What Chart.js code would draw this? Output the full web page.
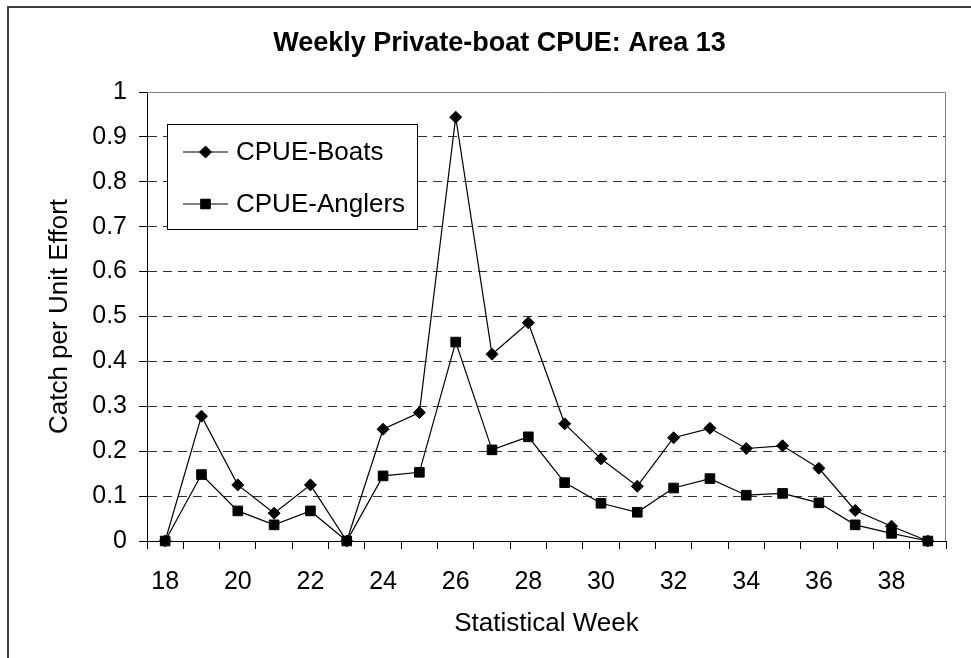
<!DOCTYPE html>
<html>
<head>
<meta charset="utf-8">
<script src="https://cdn.jsdelivr.net/npm/chart.js@4"></script>
<style>
  html, body { margin: 0; padding: 0; background: #fff; }
  canvas { display: block; }
</style>
</head>
<body>
<canvas id="chart" width="971" height="658"></canvas>
<script>
// statistical weeks and catch per unit effort
const weeks = [18, 19, 20, 21, 22, 23, 24, 25, 26, 27, 28, 29, 30, 31, 32, 33, 34, 35, 36, 37, 38, 39];
const cpueBoats = [0, 0.278, 0.125, 0.062, 0.125, 0, 0.249, 0.286, 0.944, 0.416, 0.486, 0.261,
                   0.183, 0.122, 0.230, 0.251, 0.206, 0.212, 0.162, 0.068, 0.033, 0];
const cpueAnglers = [0, 0.148, 0.067, 0.036, 0.067, 0, 0.145, 0.153, 0.443, 0.203, 0.232, 0.130,
                     0.084, 0.064, 0.118, 0.139, 0.102, 0.106, 0.085, 0.036, 0.017, 0];
const yTicks = [0, 0.1, 0.2, 0.3, 0.4, 0.5, 0.6, 0.7, 0.8, 0.9, 1];

const FONT = "'Liberation Sans', Arial, sans-serif";

// frame, plot border and the boxed legend (inside the plot, like Excel)
const decor = {
  id: 'decor',
  beforeDraw(chart) {
    const ctx = chart.ctx;
    ctx.save();
    ctx.strokeStyle = '#404040';
    ctx.lineWidth = 2;
    ctx.beginPath();
    ctx.moveTo(8, chart.height);
    ctx.lineTo(8, 7);
    ctx.lineTo(chart.width, 7);
    ctx.stroke();
    ctx.restore();
  },
  beforeDatasetsDraw(chart) {
    const { ctx, chartArea: a } = chart;
    ctx.save();
    ctx.strokeStyle = '#808080';
    ctx.lineWidth = 1;
    ctx.beginPath();
    ctx.moveTo(a.left, a.top + 0.5);
    ctx.lineTo(a.right - 0.5, a.top + 0.5);
    ctx.lineTo(a.right - 0.5, a.bottom);
    ctx.stroke();
    ctx.restore();
  },
  afterDatasetsDraw(chart) {
    const ctx = chart.ctx;
    const a = chart.chartArea;
    const bx = a.left + 20, by = a.top + 32, bw = 250, bh = 105;
    ctx.save();
    ctx.fillStyle = '#fff';
    ctx.fillRect(bx, by, bw, bh);
    ctx.strokeStyle = '#000';
    ctx.lineWidth = 1;
    ctx.strokeRect(bx + 0.5, by + 0.5, bw, bh);
    chart.data.datasets.forEach((ds, i) => {
      const y = by + 28 + i * 52;
      const x0 = bx + 16, x1 = bx + 61;
      ctx.strokeStyle = ds.borderColor;
      ctx.lineWidth = ds.borderWidth;
      ctx.beginPath();
      ctx.moveTo(x0, y);
      ctx.lineTo(x1, y);
      ctx.stroke();
      ctx.fillStyle = ds.backgroundColor;
      ctx.strokeStyle = ds.borderColor;
      ctx.lineWidth = 1;
      Chart.helpers.drawPoint(ctx, {
        pointStyle: ds.pointStyle, radius: ds.pointRadius, rotation: 0, borderWidth: 1
      }, (x0 + x1) / 2, y);
      ctx.fillStyle = '#000';
      ctx.font = '26px ' + FONT;
      ctx.textBaseline = 'middle';
      ctx.textAlign = 'left';
      ctx.fillText(ds.label, x1 + 8, y + 1);
    });
    ctx.restore();
  }
};

new Chart(document.getElementById('chart'), {
  type: 'line',
  data: {
    labels: weeks,
    datasets: [
      {
        label: 'CPUE-Boats',
        data: cpueBoats,
        borderColor: '#000',
        backgroundColor: '#000',
        borderWidth: 1.2,
        pointStyle: 'rectRot',
        pointRadius: 6,
        pointBorderWidth: 1,
        tension: 0,
        clip: false
      },
      {
        label: 'CPUE-Anglers',
        data: cpueAnglers,
        borderColor: '#000',
        backgroundColor: '#000',
        borderWidth: 1.2,
        pointStyle: 'rect',
        pointRadius: 6.8,
        pointBorderWidth: 1,
        tension: 0,
        clip: false
      }
    ]
  },
  options: {
    responsive: false,
    animation: false,
    devicePixelRatio: 1,
    layout: { padding: { left: 53, right: 25, top: 0, bottom: 0 } },
    plugins: {
      legend: { display: false },
      tooltip: { enabled: false },
      title: {
        display: true,
        text: 'Weekly Private-boat CPUE: Area 13',
        color: '#000',
        font: { family: FONT, size: 27, weight: 'bold', lineHeight: 1.2 },
        padding: { top: 27.4, bottom: 32.2 }
      }
    },
    scales: {
      x: {
        type: 'category',
        offset: true,
        grid: {
          offset: true,
          drawOnChartArea: false,
          drawTicks: true,
          tickLength: 8,
          tickColor: '#000',
          tickWidth: 1
        },
        border: { display: true, color: '#000', width: 1 },
        ticks: {
          autoSkip: false,
          maxRotation: 0,
          padding: 18,
          color: '#000',
          font: { family: FONT, size: 25 },
          callback: function (v, i) {
            const w = weeks[i];
            return w % 2 === 0 ? String(w) : '';
          }
        },
        title: {
          display: true,
          text: 'Statistical Week',
          color: '#000',
          font: { family: FONT, size: 26 },
          padding: { top: 0, bottom: 18.4 }
        },
        afterFit: s => { s.height = 117; }
      },
      y: {
        min: 0,
        max: 1,
        afterBuildTicks: s => { s.ticks = yTicks.map(v => ({ value: v })); },
        grid: {
          color: c => (c.tick && (c.tick.value === 0 || c.tick.value === 1)) ? 'rgba(0,0,0,0)' : '#333',
          lineWidth: 1,
          drawTicks: true,
          tickLength: 8,
          tickColor: '#000',
          tickBorderDash: []
        },
        border: { display: true, color: '#000', width: 1, dash: [9, 6] },
        ticks: {
          padding: 12,
          color: '#000',
          font: { family: FONT, size: 25 },
          callback: v => String(Number(v.toFixed(1)))
        },
        title: {
          display: true,
          text: 'Catch per Unit Effort',
          color: '#000',
          font: { family: FONT, size: 26 },
          padding: { top: -8.6, bottom: 0 }
        },
        afterFit: s => { s.width = 94; }
      }
    }
  },
  plugins: [decor]
});
</script>
</body>
</html>
